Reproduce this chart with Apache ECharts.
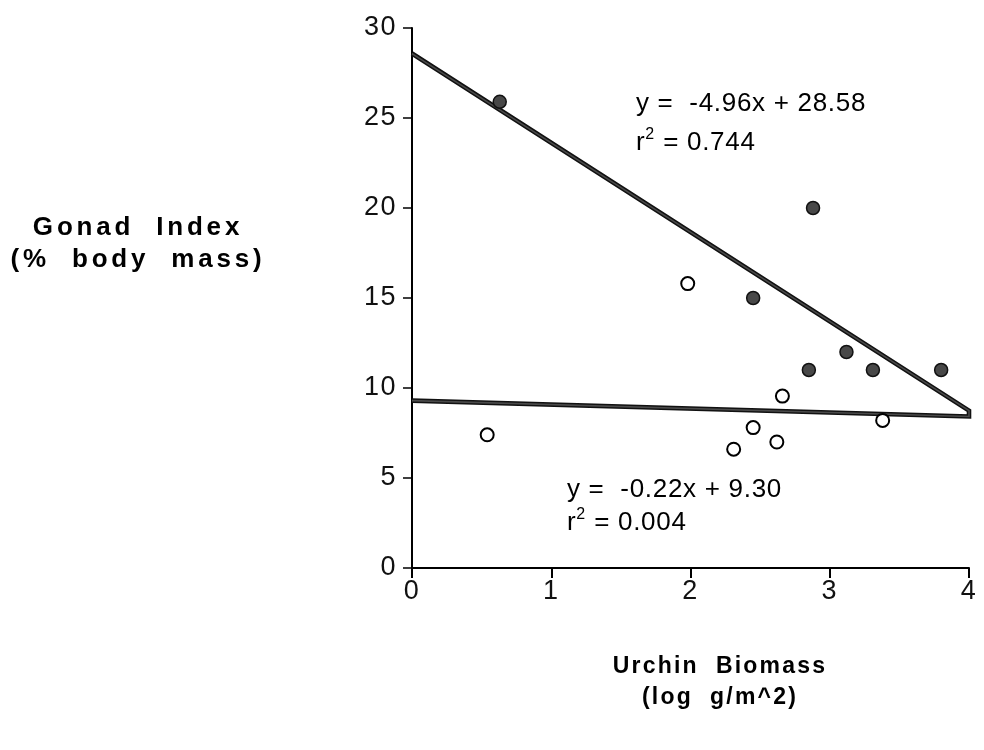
<!DOCTYPE html>
<html>
<head>
<meta charset="utf-8">
<script src="https://cdn.jsdelivr.net/npm/echarts@6/dist/echarts.min.js"></script>
<style>
  html, body { margin: 0; padding: 0; background: #fff; }
  #chart { width: 984px; height: 750px; }
</style>
</head>
<body>
<div id="chart"></div>
<script>
// Gonad index of sea urchins against urchin biomass, two site groups with their fitted lines.
const openBiomass   = [0.54, 1.98, 2.31, 2.45, 2.62, 2.66, 3.38];
const openGonad     = [7.4, 15.8, 6.6, 7.8, 7.0, 9.55, 8.2];
const filledBiomass = [0.63, 2.45, 2.85, 2.88, 3.12, 3.31, 3.80];
const filledGonad   = [25.9, 15.0, 11.0, 20.0, 12.0, 11.0, 11.0];

const filledFit = { slope: -4.96, intercept: 28.58, r2: '0.744' };
const openFit   = { slope: -0.22, intercept: 9.30,  r2: '0.004' };

const xTicks = [0, 1, 2, 3, 4];
const yTicks = [0, 5, 10, 15, 20, 25, 30];

const xTitle = ['Urchin  Biomass', '(log  g/m^2)'];
const yTitle = ['Gonad  Index', '(%  body  mass)'];

const FONT = "'Liberation Sans', Arial, Helvetica, sans-serif";

// Wide-set lettering: every character becomes its own rich fragment with trailing padding.
function spaced(text, cls) {
  return text.split('').map(c => '{' + cls + '|' + c + '}').join('');
}

const pairs = (xs, ys) => xs.map((x, i) => [x, ys[i]]);
const fitAt = (fit, x) => fit.intercept + fit.slope * x;

const xMin = xTicks[0], xMax = xTicks[xTicks.length - 1];
// Both fitted lines meet at the right edge, forming one closed outline.
const fitPath = [
  [xMin, fitAt(filledFit, xMin)],
  [xMax, fitAt(filledFit, xMax)],
  [xMax, fitAt(openFit, xMax)],
  [xMin, fitAt(openFit, xMin)]
];

function eqLabel(fit) {
  const sign = fit.intercept >= 0 ? ' + ' : ' - ';
  return 'y =  ' + fit.slope.toFixed(2) + 'x' + sign + Math.abs(fit.intercept).toFixed(2);
}

const annRich = {
  a: { fontFamily: FONT, fontSize: 26, color: '#1a1a1a', padding: [0, 0.7, 0, 0], lineHeight: 32 },
  s: { fontFamily: FONT, fontSize: 16, color: '#1a1a1a', verticalAlign: 'top', lineHeight: 32, padding: [0, 1, 0, 0] }
};
const yTitleRich = {
  t: { fontFamily: FONT, fontSize: 26, fontWeight: 'bold', color: '#111', padding: [0, 3.8, 0, 0], lineHeight: 32 }
};
const xTitleRich = {
  t: { fontFamily: FONT, fontSize: 23, fontWeight: 'bold', color: '#111', padding: [0, 2.2, 0, 0], lineHeight: 31 }
};
const tickRich = {
  k: { fontFamily: FONT, fontSize: 27, color: '#111', padding: [0, 1.5, 0, 0] }
};

function r2Text(fit) {
  return spaced('r', 'a') + '{s|2}' + spaced(' = ' + fit.r2, 'a');
}

function textBlock(lines, x, y, cls, rich, align) {
  return {
    type: 'text',
    x: x, y: y,
    style: {
      text: lines.map(l => spaced(l, cls)).join('\n'),
      rich: rich,
      align: align,
      verticalAlign: 'middle'
    }
  };
}

const chart = echarts.init(document.getElementById('chart'), null, { renderer: 'canvas' });

chart.setOption({
  backgroundColor: '#ffffff',
  animation: false,
  grid: { left: 412, right: 15, top: 28, bottom: 182 },
  xAxis: {
    type: 'value',
    min: xMin, max: xMax, interval: 1,
    axisLine: { show: true, onZero: false, lineStyle: { color: '#000', width: 2 } },
    axisTick: { show: true, length: 10, lineStyle: { color: '#000', width: 2 } },
    axisLabel: { margin: 10, formatter: v => spaced(String(v), 'k'), rich: tickRich },
    splitLine: { show: false }
  },
  yAxis: {
    type: 'value',
    min: yTicks[0], max: yTicks[yTicks.length - 1], interval: 5,
    axisLine: { show: true, onZero: false, lineStyle: { color: '#000', width: 2 } },
    axisTick: { show: true, length: 9, lineStyle: { color: '#000', width: 1.5 } },
    axisLabel: { margin: 15, formatter: v => spaced(String(v), 'k'), rich: tickRich },
    splitLine: { show: false }
  },
  series: [
    {
      type: 'line', data: fitPath, symbol: 'none', silent: true, z: 2,
      lineStyle: { color: '#111', width: 4.6, join: 'miter' }
    },
    {
      type: 'line', data: fitPath, symbol: 'none', silent: true, z: 3,
      lineStyle: { color: '#4a4a4a', width: 1.6, join: 'miter' }
    },
    {
      type: 'scatter', data: pairs(filledBiomass, filledGonad), z: 4,
      symbol: 'circle', symbolSize: 13,
      itemStyle: { color: '#484848', borderColor: '#111', borderWidth: 1.5, opacity: 1 }
    },
    {
      type: 'scatter', data: pairs(openBiomass, openGonad), z: 4,
      symbol: 'circle', symbolSize: 13,
      itemStyle: { color: '#ffffff', borderColor: '#000', borderWidth: 2, opacity: 1 }
    }
  ],
  graphic: [
    { type: 'text', x: 636, y: 104,
      style: { text: spaced(eqLabel(filledFit), 'a'), rich: annRich, align: 'left', verticalAlign: 'middle' } },
    { type: 'text', x: 636, y: 143,
      style: { text: r2Text(filledFit), rich: annRich, align: 'left', verticalAlign: 'middle' } },
    { type: 'text', x: 567, y: 490,
      style: { text: spaced(eqLabel(openFit), 'a'), rich: annRich, align: 'left', verticalAlign: 'middle' } },
    { type: 'text', x: 567, y: 523,
      style: { text: r2Text(openFit), rich: annRich, align: 'left', verticalAlign: 'middle' } },
    textBlock(yTitle, 138, 244, 't', yTitleRich, 'center'),
    textBlock(xTitle, 720, 682, 't', xTitleRich, 'center')
  ]
});
</script>
</body>
</html>
